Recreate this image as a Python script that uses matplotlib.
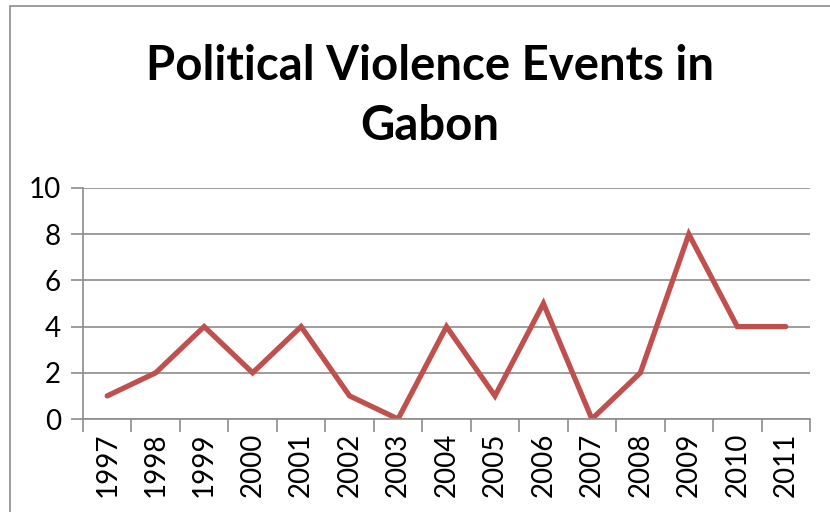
import matplotlib
matplotlib.use("Agg")
import matplotlib.pyplot as plt
from matplotlib.patches import Rectangle

years = ["1997", "1998", "1999", "2000", "2001", "2002", "2003", "2004",
         "2005", "2006", "2007", "2008", "2009", "2010", "2011"]
events = [1, 2, 4, 2, 4, 1, 0, 4, 1, 5, 0, 2, 8, 4, 4]
y_ticks = [0, 2, 4, 6, 8, 10]

plt.rcParams['font.family'] = ['Lato', 'DejaVu Sans']

W, H = 830, 512
fig = plt.figure(figsize=(W / 100, H / 100), dpi=100)

# outer chart frame (only left and top edges visible)
fig.patches.append(Rectangle((10 / W, -0.1), 1.2, (H - 6) / H + 0.1,
                             transform=fig.transFigure, fill=False,
                             edgecolor="#8c8c8c", linewidth=1.2))

ax = fig.add_axes([83 / W, (H - 419) / H, (810 - 83) / W, (419 - 188) / H])

x = list(range(len(years)))
ax.plot(x, events, color="#C0504D", linewidth=3.8, solid_capstyle="round",
        solid_joinstyle="miter")

ax.set_xlim(-0.5, len(years) - 0.5)
ax.set_ylim(0, 10)
ax.set_yticks(y_ticks)
ax.set_yticklabels([str(v) for v in y_ticks], fontsize=20)
ax.yaxis.grid(True, color="#8c8c8c", linewidth=1.2)
ax.set_axisbelow(True)

ax.set_xticks(x)
ax.set_xticklabels(years, rotation=90, fontsize=20)
ax.tick_params(axis="x", which="major", length=0, pad=10)
ax.set_xticks([i - 0.5 for i in range(len(years) + 1)], minor=True)
ax.tick_params(axis="x", which="minor", length=9, color="#8c8c8c", width=1.2)
ax.tick_params(axis="y", length=9, color="#8c8c8c", width=1.2, pad=7)

for s in ["top", "right"]:
    ax.spines[s].set_visible(False)
for s in ["left", "bottom"]:
    ax.spines[s].set_color("#8c8c8c")
    ax.spines[s].set_linewidth(1.2)

fig.text(430 / W, 1 - 66 / H, "Political Violence Events in", ha="center",
         va="center", fontsize=34, fontweight="bold")
fig.text(430 / W, 1 - 126 / H, "Gabon", ha="center", va="center",
         fontsize=34, fontweight="bold")

fig.savefig("out.png", dpi=100)
